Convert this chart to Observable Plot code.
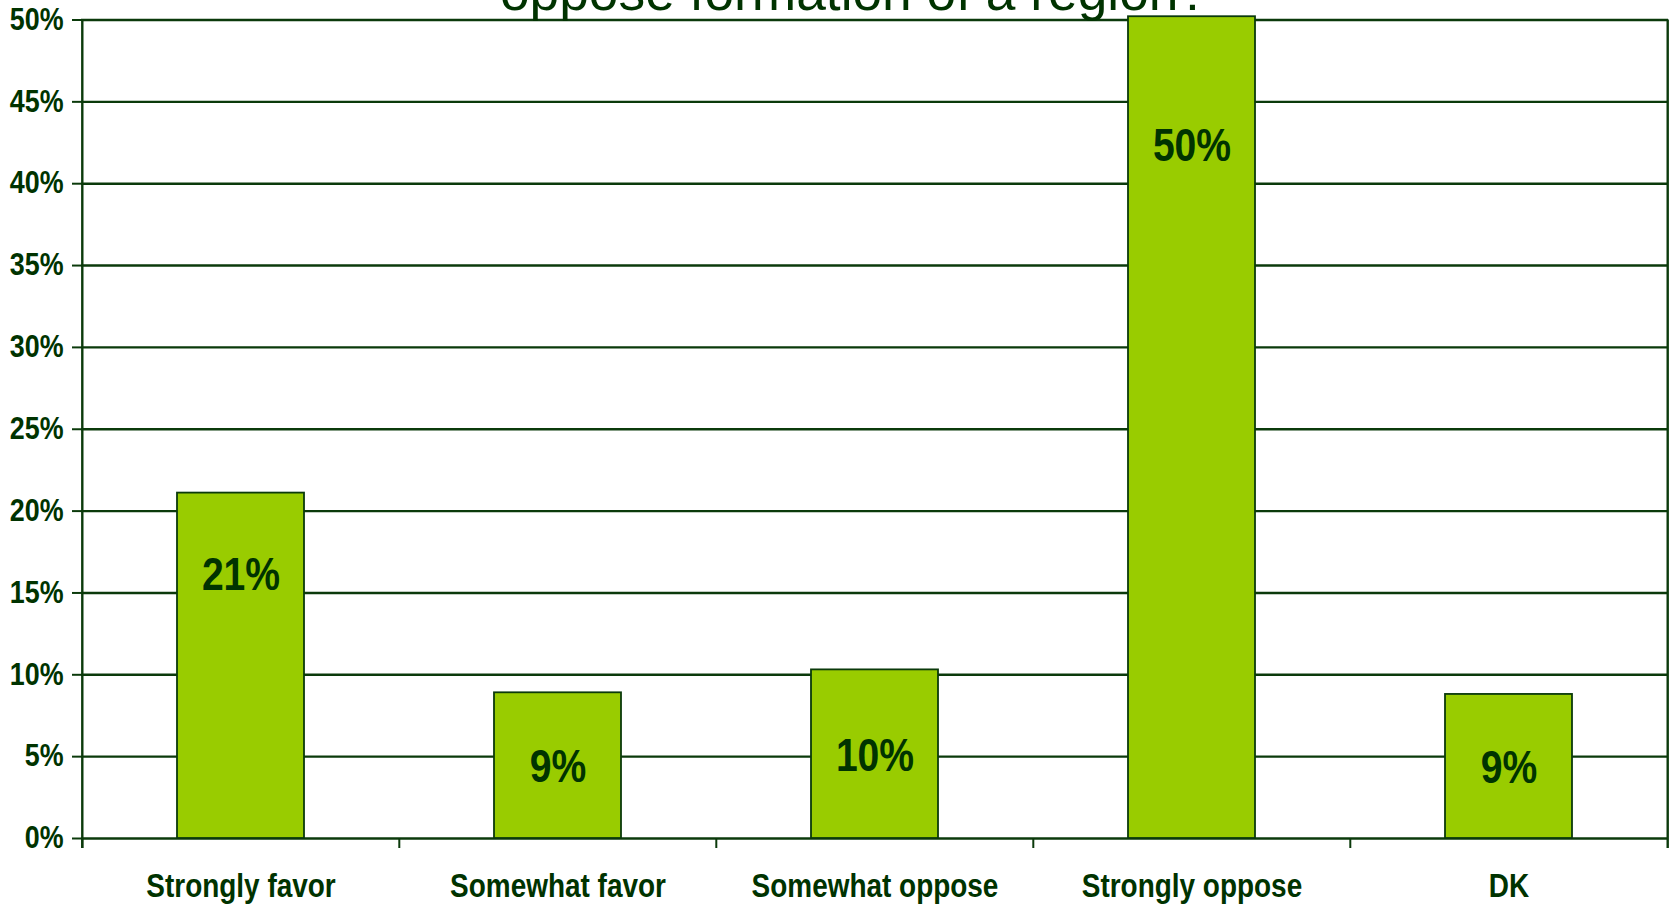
<!DOCTYPE html>
<html>
<head>
<meta charset="utf-8">
<script src="https://cdn.jsdelivr.net/npm/d3@7"></script>
<script src="https://cdn.jsdelivr.net/npm/@observablehq/plot@0.6"></script>
<style>
  html, body { margin: 0; padding: 0; background: #fff; overflow: hidden; }
  #wrap { position: relative; width: 1673px; height: 905px; }
  #title {
    position: absolute; left: 854px; top: -34.5px; transform: translateX(-50%);
    font-family: "Liberation Sans", Arial, sans-serif; font-size: 53.3px; line-height: 52px;
    color: #003300; white-space: nowrap; z-index: 2;
  }
  svg text { font-family: "Liberation Sans", Arial, sans-serif; font-weight: bold; }
</style>
</head>
<body>
<div id="wrap"><div id="title">oppose formation of a region?</div></div>
<script>
const categories = ["Strongly favor", "Somewhat favor", "Somewhat oppose", "Strongly oppose", "DK"];
const values = [21.1, 8.9, 10.3, 50.2, 8.8];
const valueLabels = ["21%", "9%", "10%", "50%", "9%"];
const yTicks = [0, 5, 10, 15, 20, 25, 30, 35, 40, 45, 50];
const yTickLabels = ["0%", "5%", "10%", "15%", "20%", "25%", "30%", "35%", "40%", "45%", "50%"];

const data = categories.map((c, i) => ({category: c, value: values[i], label: valueLabels[i]}));

const W = 1673, H = 905, ML = 81, MR = 5, MT = 19.5, MB = 67;
const step = (W - ML - MR) / categories.length;
const dark = "#0b3a0b";
const textColor = "#003300";

const labelY = d => d.value < 15 ? d.value * 0.49 : d.value * 0.9 - 2.9;

const chart = Plot.plot({
  width: W, height: H,
  marginLeft: ML, marginRight: MR, marginTop: MT, marginBottom: MB,
  style: {background: "transparent", overflow: "visible", color: textColor},
  x: {domain: categories, paddingInner: 0.6, paddingOuter: 0.3, align: 0.5, label: null},
  y: {domain: [0, 50], label: null},
  marks: [
    Plot.ruleY(yTicks, {stroke: dark, strokeWidth: 2.4}),
    Plot.barY(data, {x: "category", y: "value", fill: "#99cc00", stroke: dark, strokeWidth: 1.8}),
    Plot.text(data, {x: "category", y: labelY, text: "label", fill: textColor, fontSize: 46, fontWeight: "bold"}),
    Plot.ruleX(categories, {dx: -step / 2, y1: 0, y2: 0, insetBottom: -10, stroke: dark, strokeWidth: 2}),
    Plot.ruleX([categories[0]], {dx: -step / 2, y1: 50, y2: 0, insetBottom: -10, stroke: dark, strokeWidth: 2.4}),
    Plot.ruleX([categories[categories.length - 1]], {dx: step / 2, y1: 50, y2: 0, insetBottom: -10, stroke: dark, strokeWidth: 2.4}),
    Plot.axisY({ticks: yTicks, tickFormat: d => yTickLabels[yTicks.indexOf(d)], tickSize: 9, tickPadding: 9,
      stroke: dark, strokeWidth: 2, fill: textColor, fontSize: 30.5, fontWeight: "bold", label: null}),
    Plot.axisX({tickSize: 0, tickPadding: 35, fill: textColor, fontSize: 32.5, fontWeight: "bold", label: null})
  ]
});
document.getElementById("wrap").appendChild(chart);

// Emulate a narrow bold face (Arial Narrow Bold) by horizontally condensing each text about its anchor
chart.querySelectorAll("text").forEach(t => {
  const isX = t.closest('[aria-label="x-axis tick label"]') !== null;
  const isY = t.closest('[aria-label="y-axis tick label"]') !== null;
  const sx = isX ? 0.86 : isY ? 0.88 : 0.85;
  const bb = t.getBBox();
  const anchor = getComputedStyle(t).textAnchor;
  const ax = anchor === "end" ? bb.x + bb.width : anchor === "middle" ? bb.x + bb.width / 2 : bb.x;
  const tr = t.getAttribute("transform") || "";
  t.setAttribute("transform", `${tr} translate(${ax},0) scale(${sx},1) translate(${-ax},0)`);
});
</script>
</body>
</html>
